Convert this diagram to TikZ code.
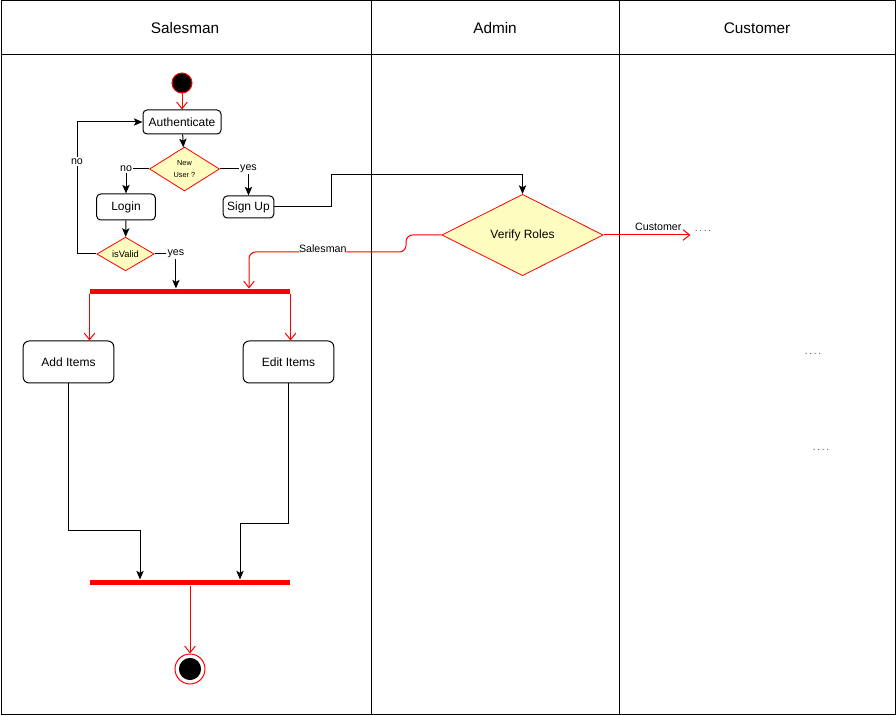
\documentclass[tikz,border=0pt]{standalone}
\usepackage{fontspec}
\setmainfont{Liberation Sans}
\usetikzlibrary{shapes.geometric, arrows.meta, calc}

\begin{document}
\begin{tikzpicture}[x=0.75pt, y=-0.75pt, line width=0.75pt,
  lane/.style={font=\fontsize{11.5}{13}\selectfont},
  action/.style={draw, rounded corners=3pt, inner sep=0pt, font=\fontsize{9}{11}\selectfont},
  decision/.style={diamond, draw=red, fill=yellow!25, inner sep=0pt, line width=0.6pt},
  bar/.style={fill=red, minimum width=150pt, minimum height=3.75pt, inner sep=0pt},
  flow/.style={-{Stealth[length=6.5pt, width=5.5pt, inset=1.5pt]}},
  redflow/.style={draw=red, -{Straight Barb[length=5pt, width=8pt]}},
  lbl/.style={font=\fontsize{8}{9}\selectfont, fill=white, inner sep=1pt},
  dots/.style={font=\fontsize{7.5}{8}\selectfont, text=black!70, inner sep=3pt}]

  \useasboundingbox (0,0) rectangle (896,716);

  % Swimlanes
  \draw (1,1) rectangle (895,714);
  \draw (1,55) -- (895,55);
  \draw (371,1) -- (371,714);
  \draw (619,1) -- (619,714);
  \node[lane] (salesman) at (185,28) {Salesman};
  \node[lane] (admin) at (495,28) {Admin};
  \node[lane] (customer) at (757,28) {Customer};

  \node[circle, fill=black, draw=red, minimum size=15pt, inner sep=0pt] (start) at (182,83) {};
  \node[action, minimum width=58.5pt, minimum height=18pt] (auth) at (182,122) {Authenticate};
  \node[decision, minimum width=52.5pt, minimum height=33pt,
        font=\fontsize{5.5}{9}\selectfont, align=center] (newuser) at (184.5,169) {New\\User ?};
  \node[action, minimum width=44pt, minimum height=19.5pt] (login) at (126,207) {Login};
  \node[action, minimum width=38pt, minimum height=16.5pt] (signup) at (248.5,207) {Sign Up};
  \node[decision, minimum width=43pt, minimum height=24pt,
        font=\fontsize{7}{8}\selectfont] (isvalid) at (125.5,254) {isValid};

  \node[bar] (fork1) at (190,291.5) {};
  \node[action, rounded corners=4.5pt, minimum width=68pt, minimum height=31.5pt] (additems) at (68.5,362) {Add Items};
  \node[action, rounded corners=4.5pt, minimum width=68pt, minimum height=31.5pt] (edititems) at (288.5,362) {Edit Items};
  \node[bar] (join) at (190,582.5) {};
  \node[circle, draw=red, minimum size=22.5pt, inner sep=0pt,
        path picture={\fill (path picture bounding box.center) circle (8.3pt);}] (endnode) at (190,669) {};

  \node[decision, minimum width=121pt, minimum height=61pt,
        font=\fontsize{9}{11}\selectfont] (verify) at (522.5,235) {Verify Roles};

  \node[dots] (dots1) at (703,231) {.\,.\,.\,.};
  \node[dots] (dots2) at (813,354) {.\,.\,.\,.};
  \node[dots] (dots3) at (821,450) {.\,.\,.\,.};

  \coordinate (loopback) at (77,122);
  \coordinate (signbend) at (331,175);
  \coordinate (s1) at (406,235);
  \coordinate (s2) at (406,252);
  \coordinate (s3) at (249,252);
  \coordinate (addbend) at (140,530);
  \coordinate (editbend) at (240,523);

  \draw[redflow] (start) -- (auth);
  \draw[flow] (auth) -- (newuser);
  \draw[flow] (newuser.west) -| node[lbl, pos=0.5] {no} (login);
  \draw[flow] (newuser.east) -| node[lbl, pos=0.5] {yes} (signup);
  \draw[flow] (login) -- (isvalid);
  \draw[flow] (isvalid.west) -| node[lbl, pos=0.85] {no} (loopback) -- (auth.west);
  \draw[flow] (isvalid.east) -| node[lbl, pos=0.5] {yes} ($(fork1.north west)!0.43!(fork1.north east)$);
  \draw[flow] (signup.east) -| (signbend) -| (verify.north);

  % Role split
  \draw[redflow, rounded corners=5pt] (verify.west) -- (s1) -- (s2)
    -- node[lbl, pos=0.53, yshift=2.5pt] {Salesman} (s3) -- (s3 |- fork1.north);
  \draw[redflow] (verify.east) -- node[lbl, pos=0.63, above, yshift=2pt] {Customer} (verify.east -| dots1.west);

  \draw[redflow] (fork1.south west) -- (fork1.south west |- additems.north);
  \draw[redflow] (fork1.south east) -- (fork1.south east |- edititems.north);
  \draw[flow] (additems.south) |- (addbend) -- (addbend |- join.north);
  \draw[flow] (edititems.south) |- (editbend) -- (editbend |- join.north);
  \draw[redflow] (join.south) -- (endnode.north);

\end{tikzpicture}
\end{document}
